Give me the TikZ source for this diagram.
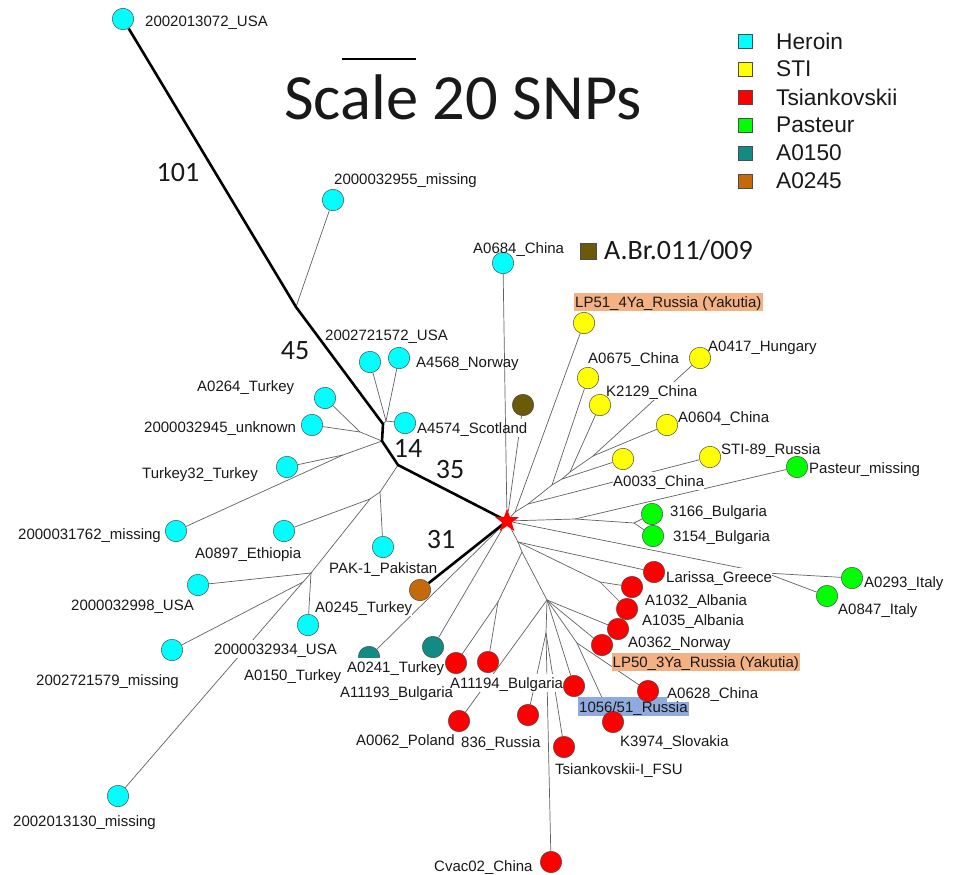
\documentclass[tikz,border=0pt]{standalone}
\usepackage{fontspec}
\setmainfont{Liberation Sans}
\newfontfamily\calib{Carlito}
\usetikzlibrary{shapes.geometric}
\pgfdeclarelayer{edges}
\pgfdeclarelayer{masks}
\pgfdeclarelayer{overedges}
\pgfsetlayers{edges,masks,overedges,main}
\definecolor{cHer}{HTML}{00FFFF}
\definecolor{cSti}{HTML}{FFFF00}
\definecolor{cTsi}{HTML}{FF0000}
\definecolor{cPas}{HTML}{00FF00}
\definecolor{cTeal}{HTML}{138A84}
\definecolor{cBrn}{HTML}{C46A0A}
\definecolor{cOlv}{HTML}{6B5A0A}
\definecolor{cHiO}{HTML}{F4B183}
\definecolor{cHiB}{HTML}{8FAADC}
\tikzset{
  tip/.style={circle,draw=black!70,line width=0.5pt,minimum size=21.5pt,inner sep=0pt},
  her/.style={tip,fill=cHer},
  sti/.style={tip,fill=cSti},
  tsi/.style={tip,fill=cTsi},
  pas/.style={tip,fill=cPas},
  tea/.style={tip,fill=cTeal},
  brn/.style={tip,fill=cBrn},
  olv/.style={tip,fill=cOlv},
  lab/.style={anchor=west,inner xsep=0pt,inner ysep=2pt,text=black!90,font=\fontsize{15}{15}\selectfont,text height=12.5pt,text depth=1.5pt},
  twig/.style={draw=black!62,line width=0.7pt},
  trunk/.style={draw=black,line width=2.6pt,line join=round},
  key/.style={rectangle,draw=black!70,line width=0.5pt,minimum size=14pt,inner sep=0pt},
  keytext/.style={anchor=west,inner sep=0pt,text=black!90,font=\fontsize{22.7}{22.7}\selectfont},
  num/.style={inner sep=0pt,text=black!90,font=\calib\fontsize{28}{28}\selectfont}
}
\newcommand{\lab}[5][white]{%
  \node[lab] (#2) at (#3,#4) {#5};
  \begin{pgfonlayer}{masks}\fill[#1] (#2.south west) rectangle (#2.north east);\end{pgfonlayer}}
\newcommand{\hilab}[5][white]{%
  \node[lab,inner xsep=1pt] (#2) at (#3,#4) {#5};
  \begin{pgfonlayer}{masks}\fill[#1] (#2.south west) rectangle (#2.north east);\end{pgfonlayer}}
\begin{document}
\begin{tikzpicture}[x=1pt,y=-1pt]
\useasboundingbox (0,0) rectangle (954,875);
% junctions
\coordinate (t1) at (296,307);
\coordinate (t2) at (383,424);
\coordinate (t3) at (382,441);
\coordinate (t4) at (398,465);
\coordinate (a1) at (386,421);
\coordinate (a2) at (360,432);
\coordinate (a3) at (343,455);
\coordinate (b1) at (380,492);
\coordinate (b2) at (370,499);
\coordinate (b3) at (311,573);
\coordinate (b4) at (303,582);
\coordinate (u0) at (515,512);
\coordinate (u1) at (528,504);
\coordinate (u2) at (552,485);
\coordinate (u3) at (562,479);
\coordinate (u4) at (570,472);
\coordinate (u5) at (593,456);
\coordinate (p1) at (575,519);
\coordinate (p2) at (634,523);
\coordinate (g1) at (766,573);
\coordinate (d0) at (518,542);
\coordinate (d1) at (600,582);
\coordinate (d2) at (522,552);
\coordinate (d3) at (498,602);
\coordinate (hub) at (547,600);
\coordinate (h1) at (577,643);
\coordinate (h2) at (546,633);
% tips
\node[her] (n1) at (123,19) {};
\node[her] (n2) at (333,200) {};
\node[her] (n3) at (370,362) {};
\node[her] (n4) at (399,358) {};
\node[her] (n5) at (405,423) {};
\node[her] (n6) at (325,398) {};
\node[her] (n7) at (312,425) {};
\node[her] (n8) at (287,467) {};
\node[her] (n9) at (176,531) {};
\node[her] (n10) at (383,547) {};
\node[her] (n11) at (284,531) {};
\node[her] (n12) at (198,585) {};
\node[her] (n13) at (308,625) {};
\node[her] (n14) at (172,650) {};
\node[her] (n15) at (118,796) {};
\node[her] (n16) at (503,263) {};
\node[olv] (n17) at (523,405) {};
\node[sti] (s1) at (584,323) {};
\node[sti] (s2) at (588,378) {};
\node[sti] (s3) at (600,405) {};
\node[sti] (s4) at (700,358) {};
\node[sti] (s5) at (667,425) {};
\node[sti] (s6) at (623,459) {};
\node[sti] (s7) at (710,457) {};
\node[pas] (g2) at (797,467) {};
\node[pas] (g3) at (652,514) {};
\node[pas] (g4) at (653,536) {};
\node[pas] (g5) at (852,578) {};
\node[pas] (g6) at (827,596) {};
\node[tsi] (r1) at (654,572) {};
\node[tsi] (r2) at (632,587) {};
\node[tsi] (r3) at (627,609) {};
\node[tsi] (r4) at (618,629) {};
\node[tsi] (r5) at (602,645) {};
\node[tsi] (r6) at (648,691) {};
\node[tsi] (r7) at (574,686) {};
\node[tsi] (r8) at (613,722) {};
\node[tsi] (r9) at (564,747) {};
\node[tsi] (r10) at (528,715) {};
\node[tsi] (r11) at (459,721) {};
\node[tsi] (r12) at (488,662) {};
\node[tsi] (r13) at (456,663) {};
\node[tsi] (r14) at (551,862) {};
\node[tea] (e1) at (433,647) {};
\node[brn] (o1) at (420,590) {};
\node[star,star points=5,star point ratio=2.5,fill=cTsi,inner sep=0pt,minimum size=25pt] (root) at (507,521) {};
\begin{pgfonlayer}{edges}
\node[tea] (e2) at (369,657) {};
\end{pgfonlayer}
% labels
\lab{l1}{145}{21}{2002013072\_USA}
\lab{l2}{334}{179}{2000032955\_missing}
\lab{l3}{325}{335}{2002721572\_USA}
\lab{l4}{416}{362}{A4568\_Norway}
\lab{l5}{417}{428}{A4574\_Scotland}
\lab{l6}{197}{386}{A0264\_Turkey}
\lab{l7}{144}{427}{2000032945\_unknown}
\lab{l8}{142}{473}{Turkey32\_Turkey}
\lab{l9}{18}{534}{2000031762\_missing}
\lab{l10}{329}{568}{PAK-1\_Pakistan}
\lab{l11}{195}{553}{A0897\_Ethiopia}
\lab{l12}{71}{605}{2000032998\_USA}
\lab{l13}{214}{649}{2000032934\_USA}
\lab{l14}{36}{680}{2002721579\_missing}
\lab{l15}{13}{821}{2002013130\_missing}
\lab{l16}{473}{248}{A0684\_China}
\lab{l17}{315}{607}{A0245\_Turkey}
\lab{l18}{244}{675}{A0150\_Turkey}
\lab{l19}{347}{667}{A0241\_Turkey}
\lab{l20}{340}{692}{A11193\_Bulgaria}
\lab{l21}{450}{683}{A11194\_Bulgaria}
\lab{l22}{356}{740}{A0062\_Poland}
\lab{l23}{461}{742}{836\_Russia}
\lab{l24}{555}{769}{Tsiankovskii-I\_FSU}
\lab{l25}{620}{741}{K3974\_Slovakia}
\hilab[cHiB]{l26}{578}{706.5}{1056/51\_Russia}
\lab{l27}{667}{693}{A0628\_China}
\hilab[cHiO]{l28}{611.5}{662}{LP50\_3Ya\_Russia (Yakutia)}
\lab{l29}{628}{642}{A0362\_Norway}
\lab{l30}{642}{620}{A1035\_Albania}
\lab{l31}{645}{600}{A1032\_Albania}
\lab{l32}{666}{577}{Larissa\_Greece}
\lab{l33}{864}{582}{A0293\_Italy}
\lab{l34}{838}{609}{A0847\_Italy}
\lab{l35}{670}{511}{3166\_Bulgaria}
\lab{l36}{673}{536}{3154\_Bulgaria}
\lab{l37}{809}{468}{Pasteur\_missing}
\lab{l38}{721}{449}{STI-89\_Russia}
\lab{l39}{613}{481}{A0033\_China}
\lab{l40}{678}{417}{A0604\_China}
\lab{l41}{606}{391}{K2129\_China}
\lab{l42}{588}{358}{A0675\_China}
\lab{l43}{708}{346}{A0417\_Hungary}
\hilab[cHiO]{l44}{574}{302}{LP51\_4Ya\_Russia (Yakutia)}
\lab{l45}{434}{866}{Cvac02\_China}
% edges
\begin{pgfonlayer}{edges}
\draw[twig] (t1) -- (n2);
\draw[twig] (t2) -- (a1) -- (n3);
\draw[twig] (a1) -- (n4);
\draw[twig] (a1) -- (n5);
\draw[twig] (t3) -- (a2) -- (n6);
\draw[twig] (a2) -- (n7);
\draw[twig] (t3) -- (a3) -- (n8);
\draw[twig] (a3) -- (n9);
\draw[twig] (t4) -- (b1) -- (n10);
\draw[twig] (b1) -- (b2) -- (n11);
\draw[twig] (b2) -- (b3) -- (n12);
\draw[twig] (b3) -- (n13);
\draw[twig] (b3) -- (b4) -- (n14);
\draw[twig] (b4) -- (n15);
\draw[twig] (root) -- (n17);
\draw[twig] (root) -- (u0) -- (s1);
\draw[twig] (u0) -- (u1) -- (u2) -- (u3) -- (u4) -- (u5);
\draw[twig] (u2) -- (s2);
\draw[twig] (u4) -- (s3);
\draw[twig] (u5) -- (s4);
\draw[twig] (u5) -- (s5);
\draw[twig] (u3) -- (s6);
\draw[twig] (u1) -- (s7);
\draw[twig] (root) -- (p1) -- (g2);
\draw[twig] (p1) -- (p2) -- (g3);
\draw[twig] (p2) -- (g4);
\draw[twig] (root) -- (g1) -- (g5);
\draw[twig] (g1) -- (g6);
\draw[twig] (root) -- (d0) -- (r1);
\draw[twig] (d0) -- (d1) -- (r2);
\draw[twig] (d1) -- (r3);
\draw[twig] (d0) -- (d2) -- (d3) -- (r13);
\draw[twig] (d3) -- (r12);
\draw[twig] (d2) -- (hub) -- (r4);
\draw[twig] (hub) -- (r5);
\draw[twig] (hub) -- (r7);
\draw[twig] (hub) -- (h1) -- (r6);
\draw[twig] (h1) -- (r8);
\draw[twig] (hub) -- (r11);
\draw[twig] (hub) -- (h2) -- (r10);
\draw[twig] (h2) -- (r9);
\draw[twig] (h2) -- (r14);
\draw[twig] (root) -- (e1);
\draw[twig] (root) -- (e2);
\end{pgfonlayer}
\begin{pgfonlayer}{overedges}
\draw[twig] (n16) -- (root);
\draw[trunk] (n1) -- (t1) -- (t2) -- (t3) -- (t4) -- (root.center);
\draw[trunk] (o1) -- (root.center);
\end{pgfonlayer}
% title and numbers
\node[inner sep=0pt,text=black!90,font=\calib\fontsize{64.5}{64.5}\selectfont] (title) at (463,97) {Scale 20 SNPs};
\coordinate (sb1) at (342,59);
\coordinate (sb2) at (416,59);
\draw[black,line width=2pt] (sb1) -- (sb2);
\node[num] (v1) at (178,173) {101};
\node[num] (v2) at (295,351) {45};
\node[num] (v3) at (408,448) {14};
\node[num] (v4) at (450,470) {35};
\node[num] (v5) at (441,540) {31};
% legend
\node[key,fill=cHer] (k1) at (745,41) {};
\node[key,fill=cSti] (k2) at (745,69) {};
\node[key,fill=cTsi] (k3) at (745,97) {};
\node[key,fill=cPas] (k4) at (745,125) {};
\node[key,fill=cTeal] (k5) at (745,153) {};
\node[key,fill=cBrn] (k6) at (745,181) {};
\node[keytext] (kt1) at (776,41) {Heroin};
\node[keytext] (kt2) at (776,69) {STI};
\node[keytext] (kt3) at (776,97) {Tsiankovskii};
\node[keytext] (kt4) at (776,125) {Pasteur};
\node[keytext] (kt5) at (776,153) {A0150};
\node[keytext] (kt6) at (776,181) {A0245};
\node[key,fill=cOlv,minimum size=16pt] (k7) at (588,251) {};
\node[anchor=west,inner sep=0pt,text=black!90,font=\calib\fontsize{28}{28}\selectfont] (kt7) at (604,250) {A.Br.011/009};
\end{tikzpicture}
\end{document}
